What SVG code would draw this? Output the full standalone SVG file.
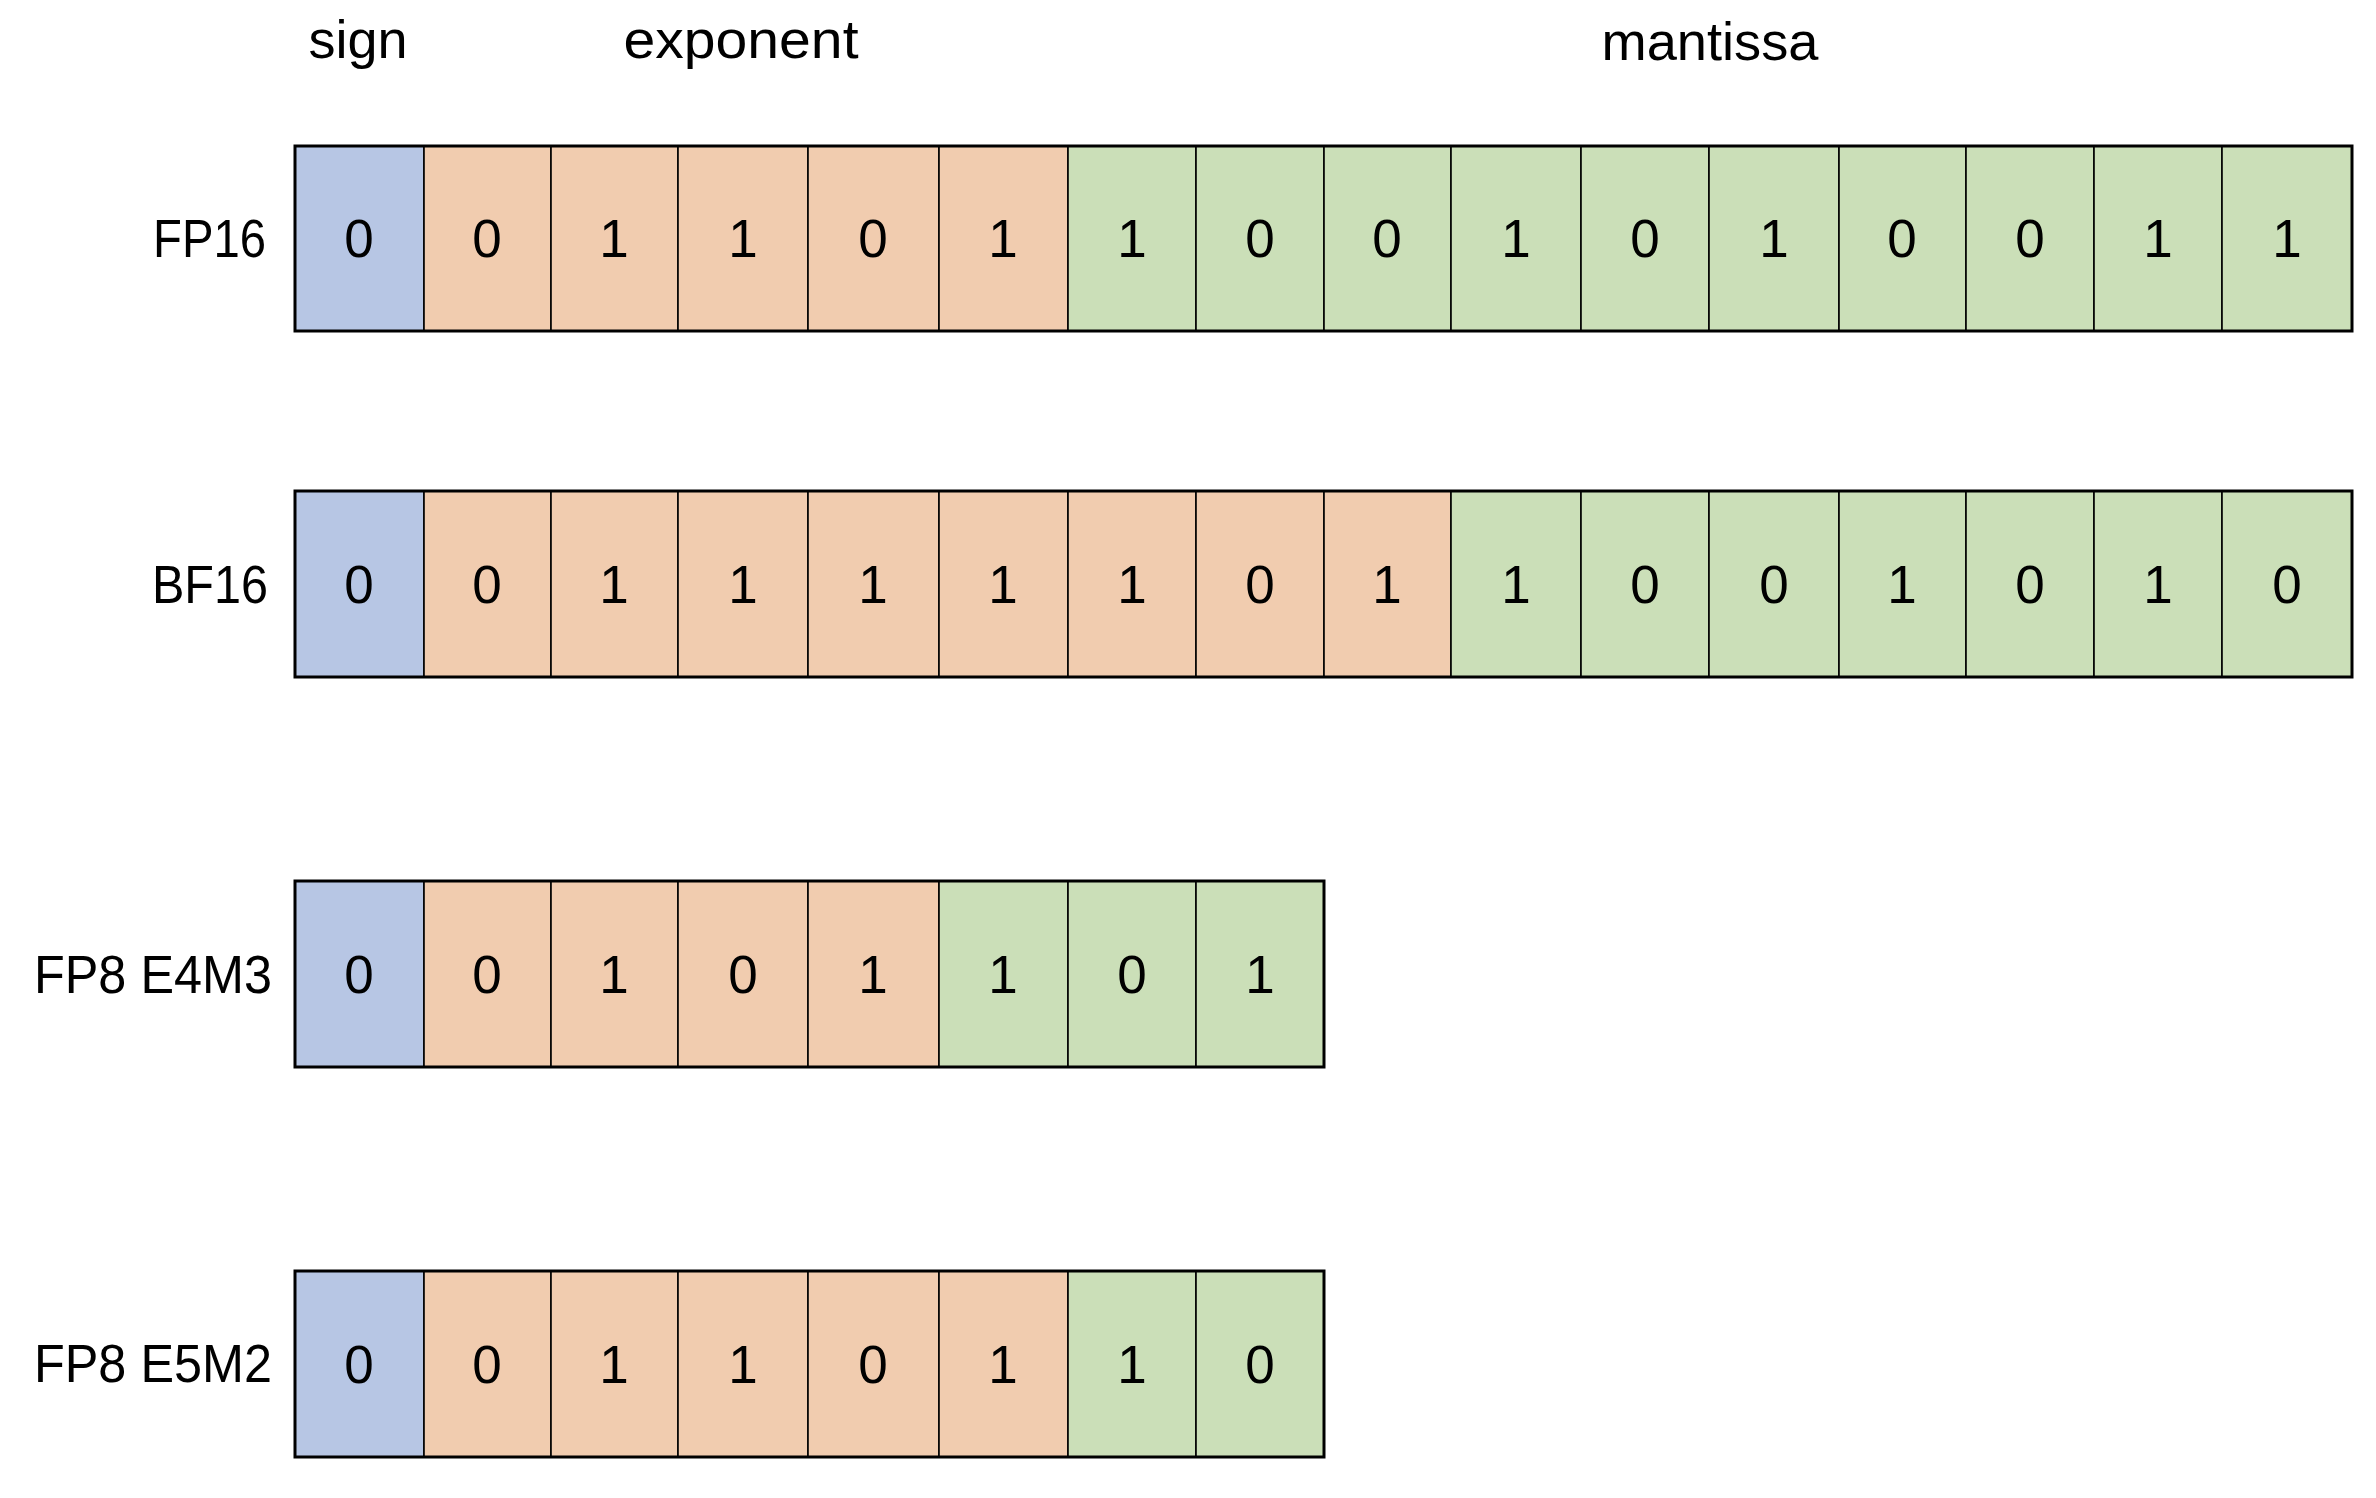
<svg xmlns="http://www.w3.org/2000/svg" width="2376" height="1498" viewBox="0 0 2376 1498">
<style>
.s{fill:#B7C6E4;stroke:#000;stroke-width:1.6}
.e{fill:#F1CCAF;stroke:#000;stroke-width:1.6}
.m{fill:#CBDFB8;stroke:#000;stroke-width:1.6}
.frame{fill:none;stroke:#000;stroke-width:3}
.d{font-family:"Liberation Sans",Arial,sans-serif;font-size:53px;fill:#000;text-anchor:middle}
.lbl{font-family:"Liberation Sans",Arial,sans-serif;font-size:53px;fill:#000;text-anchor:end}
.hd{font-family:"Liberation Sans",Arial,sans-serif;font-size:54px;fill:#000;text-anchor:middle}
</style>
<rect width="2376" height="1498" fill="#fff"/>
<g id="headers">
<text class="hd" x="358" y="58">sign</text>
<text class="hd" x="741" y="58" textLength="235" lengthAdjust="spacingAndGlyphs">exponent</text>
<text class="hd" x="1710" y="60" textLength="217" lengthAdjust="spacingAndGlyphs">mantissa</text>
</g>
<g id="fp16">
<text class="lbl" x="266" y="257" textLength="113" lengthAdjust="spacingAndGlyphs">FP16</text>
<rect class="s" x="295" y="146" width="129" height="185"/>
<rect class="e" x="424" y="146" width="127" height="185"/>
<rect class="e" x="551" y="146" width="127" height="185"/>
<rect class="e" x="678" y="146" width="130" height="185"/>
<rect class="e" x="808" y="146" width="131" height="185"/>
<rect class="e" x="939" y="146" width="129" height="185"/>
<rect class="m" x="1068" y="146" width="128" height="185"/>
<rect class="m" x="1196" y="146" width="128" height="185"/>
<rect class="m" x="1324" y="146" width="127" height="185"/>
<rect class="m" x="1451" y="146" width="130" height="185"/>
<rect class="m" x="1581" y="146" width="128" height="185"/>
<rect class="m" x="1709" y="146" width="130" height="185"/>
<rect class="m" x="1839" y="146" width="127" height="185"/>
<rect class="m" x="1966" y="146" width="128" height="185"/>
<rect class="m" x="2094" y="146" width="128" height="185"/>
<rect class="m" x="2222" y="146" width="130" height="185"/>
<rect class="frame" x="295" y="146" width="2057" height="185"/>
<text class="d" x="359" y="257">0</text>
<text class="d" x="487" y="257">0</text>
<text class="d" x="614" y="257">1</text>
<text class="d" x="743" y="257">1</text>
<text class="d" x="873" y="257">0</text>
<text class="d" x="1003" y="257">1</text>
<text class="d" x="1132" y="257">1</text>
<text class="d" x="1260" y="257">0</text>
<text class="d" x="1387" y="257">0</text>
<text class="d" x="1516" y="257">1</text>
<text class="d" x="1645" y="257">0</text>
<text class="d" x="1774" y="257">1</text>
<text class="d" x="1902" y="257">0</text>
<text class="d" x="2030" y="257">0</text>
<text class="d" x="2158" y="257">1</text>
<text class="d" x="2287" y="257">1</text>
</g>
<g id="bf16">
<text class="lbl" x="268" y="603" textLength="116" lengthAdjust="spacingAndGlyphs">BF16</text>
<rect class="s" x="295" y="491" width="129" height="186"/>
<rect class="e" x="424" y="491" width="127" height="186"/>
<rect class="e" x="551" y="491" width="127" height="186"/>
<rect class="e" x="678" y="491" width="130" height="186"/>
<rect class="e" x="808" y="491" width="131" height="186"/>
<rect class="e" x="939" y="491" width="129" height="186"/>
<rect class="e" x="1068" y="491" width="128" height="186"/>
<rect class="e" x="1196" y="491" width="128" height="186"/>
<rect class="e" x="1324" y="491" width="127" height="186"/>
<rect class="m" x="1451" y="491" width="130" height="186"/>
<rect class="m" x="1581" y="491" width="128" height="186"/>
<rect class="m" x="1709" y="491" width="130" height="186"/>
<rect class="m" x="1839" y="491" width="127" height="186"/>
<rect class="m" x="1966" y="491" width="128" height="186"/>
<rect class="m" x="2094" y="491" width="128" height="186"/>
<rect class="m" x="2222" y="491" width="130" height="186"/>
<rect class="frame" x="295" y="491" width="2057" height="186"/>
<text class="d" x="359" y="603">0</text>
<text class="d" x="487" y="603">0</text>
<text class="d" x="614" y="603">1</text>
<text class="d" x="743" y="603">1</text>
<text class="d" x="873" y="603">1</text>
<text class="d" x="1003" y="603">1</text>
<text class="d" x="1132" y="603">1</text>
<text class="d" x="1260" y="603">0</text>
<text class="d" x="1387" y="603">1</text>
<text class="d" x="1516" y="603">1</text>
<text class="d" x="1645" y="603">0</text>
<text class="d" x="1774" y="603">0</text>
<text class="d" x="1902" y="603">1</text>
<text class="d" x="2030" y="603">0</text>
<text class="d" x="2158" y="603">1</text>
<text class="d" x="2287" y="603">0</text>
</g>
<g id="fp8-e4m3">
<text class="lbl" x="272" y="993" textLength="238" lengthAdjust="spacingAndGlyphs">FP8 E4M3</text>
<rect class="s" x="295" y="881" width="129" height="186"/>
<rect class="e" x="424" y="881" width="127" height="186"/>
<rect class="e" x="551" y="881" width="127" height="186"/>
<rect class="e" x="678" y="881" width="130" height="186"/>
<rect class="e" x="808" y="881" width="131" height="186"/>
<rect class="m" x="939" y="881" width="129" height="186"/>
<rect class="m" x="1068" y="881" width="128" height="186"/>
<rect class="m" x="1196" y="881" width="128" height="186"/>
<rect class="frame" x="295" y="881" width="1029" height="186"/>
<text class="d" x="359" y="993">0</text>
<text class="d" x="487" y="993">0</text>
<text class="d" x="614" y="993">1</text>
<text class="d" x="743" y="993">0</text>
<text class="d" x="873" y="993">1</text>
<text class="d" x="1003" y="993">1</text>
<text class="d" x="1132" y="993">0</text>
<text class="d" x="1260" y="993">1</text>
</g>
<g id="fp8-e5m2">
<text class="lbl" x="272" y="1382" textLength="238" lengthAdjust="spacingAndGlyphs">FP8 E5M2</text>
<rect class="s" x="295" y="1271" width="129" height="186"/>
<rect class="e" x="424" y="1271" width="127" height="186"/>
<rect class="e" x="551" y="1271" width="127" height="186"/>
<rect class="e" x="678" y="1271" width="130" height="186"/>
<rect class="e" x="808" y="1271" width="131" height="186"/>
<rect class="e" x="939" y="1271" width="129" height="186"/>
<rect class="m" x="1068" y="1271" width="128" height="186"/>
<rect class="m" x="1196" y="1271" width="128" height="186"/>
<rect class="frame" x="295" y="1271" width="1029" height="186"/>
<text class="d" x="359" y="1383">0</text>
<text class="d" x="487" y="1383">0</text>
<text class="d" x="614" y="1383">1</text>
<text class="d" x="743" y="1383">1</text>
<text class="d" x="873" y="1383">0</text>
<text class="d" x="1003" y="1383">1</text>
<text class="d" x="1132" y="1383">1</text>
<text class="d" x="1260" y="1383">0</text>
</g>
</svg>
